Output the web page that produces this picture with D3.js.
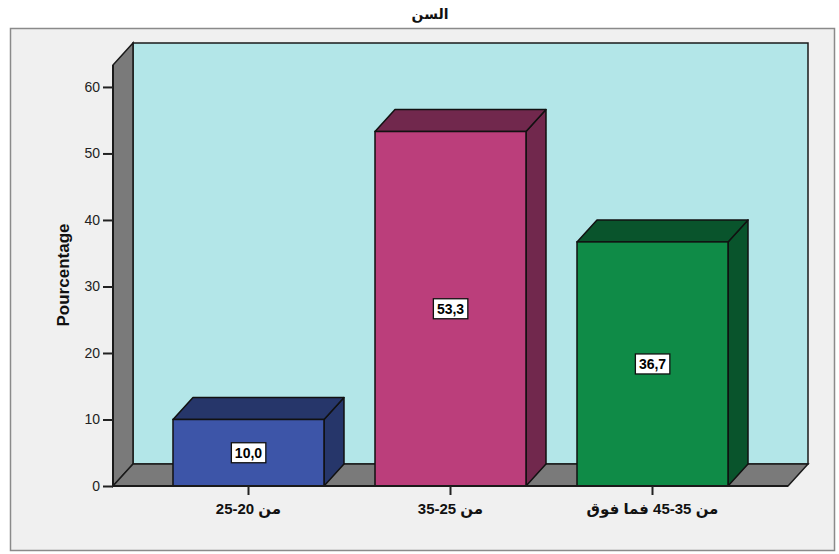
<!DOCTYPE html>
<html>
<head>
<meta charset="utf-8">
<script src="https://cdn.jsdelivr.net/npm/d3@7"></script>
<style>
  html, body { margin: 0; padding: 0; background: #ffffff; }
  svg { display: block; }
  text { font-family: "Liberation Sans", Arial, "DejaVu Sans", sans-serif; }
</style>
</head>
<body>
<svg id="chart" width="839" height="554"></svg>
<script>
// Age groups and their share (%)
const categories = ["من 20-25", "من 25-35", "من 35-45 فما فوق"];
const percentages = [10.0, 53.3, 36.7];
const yTicks = [0, 10, 20, 30, 40, 50, 60];
const yMax = 63.3;
const chartTitle = "السن";
const yTitle = "Pourcentage";

// Face colours per bar: front face and shaded top/side
const frontColors = ["#3d55a8", "#bb3e7b", "#0f8b47"];
const shadeColors = ["#26366a", "#71284d", "#09542c"];

const svg = d3.select("#chart");

// 3-D depth offset of the box
const dx = 20, dy = 22;
const plotLeft = 113, plotRight = 788, plotBottom = 486, plotTop = 65;

const y = d3.scaleLinear().domain([0, yMax]).range([plotBottom, plotTop]);
const x = d3.scaleBand().domain(categories).range([plotLeft, plotRight])
  .paddingInner(0.2525).paddingOuter(0.297);

// outer frame
svg.append("rect").attr("x", 10.5).attr("y", 28.5).attr("width", 824).attr("height", 522)
  .attr("fill", "#f0f0f0").attr("stroke", "#8a8a8a").attr("stroke-width", 1.5);

// title
svg.append("text").attr("x", 430).attr("y", 19).attr("text-anchor", "middle")
  .attr("font-size", 14).attr("font-weight", "bold").attr("fill", "#111")
  .attr("direction", "rtl").text(chartTitle);

// back wall
svg.append("rect").attr("x", plotLeft + dx).attr("y", plotTop - dy)
  .attr("width", plotRight - plotLeft).attr("height", plotBottom - plotTop)
  .attr("fill", "#b3e6e8").attr("stroke", "#1a1a1a").attr("stroke-width", 1.5);

// left wall
svg.append("polygon")
  .attr("points", [[plotLeft, plotBottom], [plotLeft, plotTop], [plotLeft + dx, plotTop - dy], [plotLeft + dx, plotBottom - dy]].join(" "))
  .attr("fill", "#7a7a7a").attr("stroke", "#1a1a1a").attr("stroke-width", 1.5);

// floor
svg.append("polygon")
  .attr("points", [[plotLeft, plotBottom], [plotLeft + dx, plotBottom - dy], [plotRight + dx, plotBottom - dy], [plotRight, plotBottom]].join(" "))
  .attr("fill", "#7a7a7a").attr("stroke", "#1a1a1a").attr("stroke-width", 1.5);

// bars
const bars = svg.append("g").selectAll("g").data(categories).join("g");
bars.each(function (c, i) {
  const g = d3.select(this);
  const x0 = x(c), bw = x.bandwidth();
  const yv = y(percentages[i]), y0 = y(0);
  // side face
  g.append("polygon")
    .attr("points", [[x0 + bw, yv], [x0 + bw + dx, yv - dy], [x0 + bw + dx, y0 - dy], [x0 + bw, y0]].join(" "))
    .attr("fill", shadeColors[i]).attr("stroke", "#111").attr("stroke-width", 1.5).attr("stroke-linejoin", "round");
  // top face
  g.append("polygon")
    .attr("points", [[x0, yv], [x0 + dx, yv - dy], [x0 + bw + dx, yv - dy], [x0 + bw, yv]].join(" "))
    .attr("fill", shadeColors[i]).attr("stroke", "#111").attr("stroke-width", 1.5).attr("stroke-linejoin", "round");
  // front face
  g.append("rect").attr("x", x0).attr("y", yv).attr("width", bw).attr("height", y0 - yv)
    .attr("fill", frontColors[i]).attr("stroke", "#111").attr("stroke-width", 1.5);
});

// axis lines
svg.append("line").attr("x1", plotLeft).attr("x2", plotLeft).attr("y1", plotTop).attr("y2", plotBottom)
  .attr("stroke", "#1a1a1a").attr("stroke-width", 2);
svg.append("line").attr("x1", plotLeft).attr("x2", plotRight).attr("y1", plotBottom).attr("y2", plotBottom)
  .attr("stroke", "#1a1a1a").attr("stroke-width", 2);

// y axis
const yAxis = d3.axisLeft(y).tickValues(yTicks).tickSize(10).tickPadding(3).tickFormat(d3.format("d"));
const yg = svg.append("g").attr("transform", `translate(${plotLeft},0)`).call(yAxis);
yg.select(".domain").remove();
yg.selectAll(".tick line").attr("stroke", "#222").attr("stroke-width", 2);
yg.selectAll(".tick text").attr("font-size", 14).attr("fill", "#222")
  .attr("font-family", "'Liberation Sans', Arial, sans-serif");

// x axis
const xAxis = d3.axisBottom(x).tickSize(9).tickPadding(8);
const xg = svg.append("g").attr("transform", `translate(0,${plotBottom})`).call(xAxis);
xg.select(".domain").remove();
xg.selectAll(".tick line").attr("stroke", "#222").attr("stroke-width", 2);
xg.selectAll(".tick text").attr("font-size", 15).attr("font-weight", "bold").attr("fill", "#111")
  .attr("direction", "rtl")
  .attr("font-family", "'Liberation Sans', Arial, 'DejaVu Sans', sans-serif");

// y axis title
svg.append("text").attr("transform", `translate(69,275) rotate(-90)`)
  .attr("text-anchor", "middle").attr("font-size", 17).attr("font-weight", "bold").attr("fill", "#111")
  .text(yTitle);

// value labels
const fmt = v => d3.format(".1f")(v).replace(".", ",");
bars.each(function (c, i) {
  const g = d3.select(this);
  const cx = x(c) + x.bandwidth() / 2;
  const cy = (y(percentages[i]) + y(0)) / 2;
  const t = g.append("text").attr("x", cx).attr("y", cy + 5).attr("text-anchor", "middle")
    .attr("font-size", 14).attr("font-weight", "bold").attr("fill", "#000").text(fmt(percentages[i]));
  const bb = t.node().getBBox();
  g.insert("rect", "text").attr("x", bb.x - 3.5).attr("y", cy - 10).attr("width", bb.width + 7).attr("height", 20)
    .attr("fill", "#fff").attr("stroke", "#111").attr("stroke-width", 1.3);
});
</script>
</body>
</html>
